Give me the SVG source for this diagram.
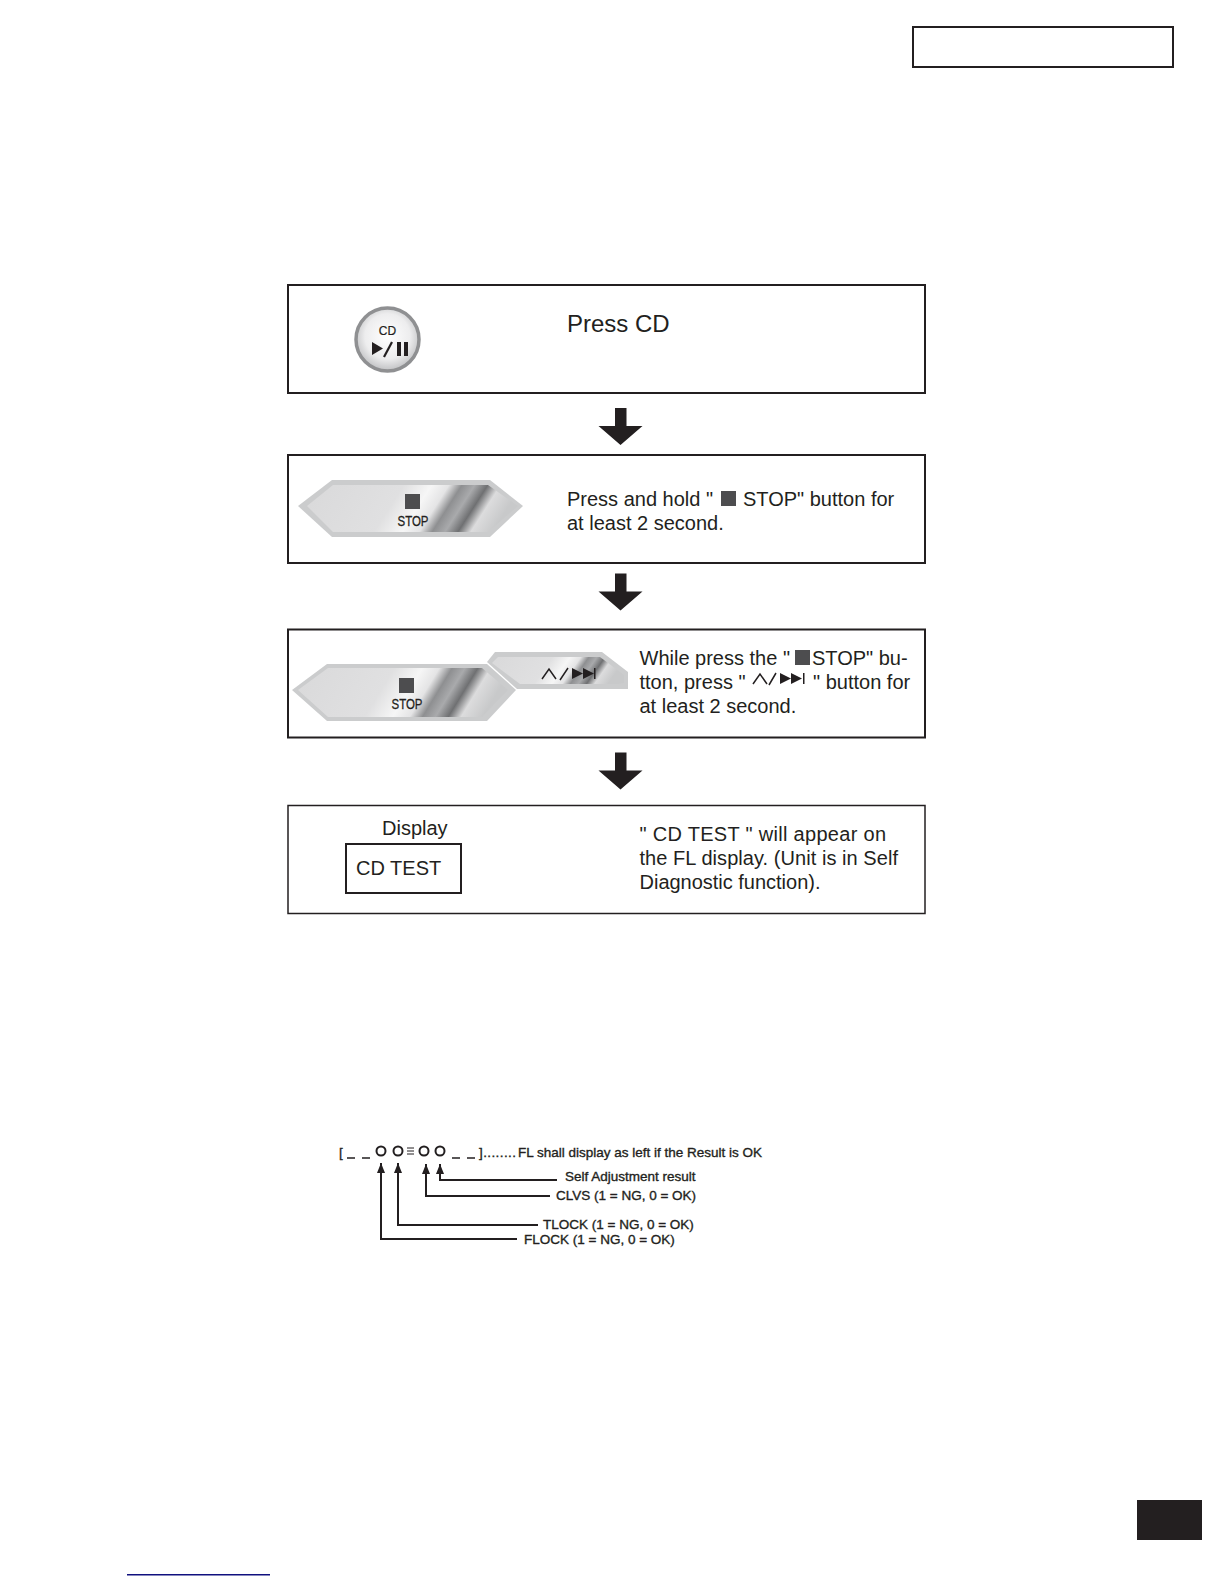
<svg xmlns="http://www.w3.org/2000/svg" width="1224" height="1584" viewBox="0 0 1224 1584">
<style>
text{font-family:"Liberation Sans",Arial,sans-serif;fill:#231f20}
.t{font-size:20px}
.box{fill:#fff;stroke:#231f20;stroke-width:2}
.thin{stroke-width:1.5}
.sq{fill:#4d4d4f}
.lab{font-size:13.5px;stroke:#231f20;stroke-width:.35}
.ln{fill:none;stroke:#231f20;stroke-width:2}
.stop{font-size:15px;stroke:#231f20;stroke-width:.3}
.glyph{fill:#231f20}
.gs{fill:none;stroke:#231f20;stroke-width:1.5}
.rim{fill:#cbcccd}
.face{fill:url(#metal)}
</style>
<defs>
<linearGradient id="metal" x1="0" y1="0" x2="1" y2="0.142">
<stop offset="0" stop-color="#d9d9da"/><stop offset=".45" stop-color="#e0e0e1"/><stop offset=".58" stop-color="#f6f6f6"/><stop offset=".66" stop-color="#e4e4e5"/><stop offset=".72" stop-color="#8e8f91"/><stop offset=".78" stop-color="#a9aaac"/><stop offset=".84" stop-color="#6f7072"/><stop offset=".9" stop-color="#dcdcdd"/><stop offset="1" stop-color="#c8c9ca"/>
</linearGradient>
<radialGradient id="disc" cx=".5" cy=".45" r=".55"><stop offset="0" stop-color="#fff"/><stop offset=".65" stop-color="#ededee"/><stop offset="1" stop-color="#bfc0c2"/></radialGradient>
<polygon id="arrow" points="615,408 626.500,408 626.500,426 642.500,426 620.500,445 598.500,426 615,426"/>
<marker id="tip" viewBox="0 0 8 10" refX="4" refY="0" markerWidth="8" markerHeight="10" markerUnits="userSpaceOnUse" orient="0"><path d="M4 0L8 10H0Z" fill="#231f20"/></marker>
</defs>
<rect width="1224" height="1584" fill="#fff"/>
<g id="header-box"><rect class="box" x="913" y="27" width="260" height="40"/></g>
<g id="step1">
<rect class="box" x="288" y="285" width="637" height="108"/>
<circle cx="387.500" cy="339.500" r="31.500" fill="url(#disc)" stroke="#8f9092" stroke-width="3.500"/>
<text x="387.500" y="335" font-size="12" text-anchor="middle" stroke="#231f20" stroke-width=".2">CD</text>
<path class="glyph" d="M372 342L383 348.500L372 355Z M397 342h4v14h-4Z M404 342h4v14h-4Z"/>
<path d="M392 342L384 357" fill="none" stroke="#231f20" stroke-width="2.200"/>
<text x="567" y="332" font-size="24">Press CD</text>
</g>
<g id="step2">
<rect class="box" x="288" y="455" width="637" height="108"/>
<polygon class="rim" points="332,480 490,480 523,506 490,537 332,537 298,506"/>
<polygon class="face" points="333,485 488,485 518,506 488,532 333,532 307,506"/>
<rect class="sq" x="405" y="494" width="15" height="15"/>
<text class="stop" x="413" y="525.500" text-anchor="middle" textLength="31" lengthAdjust="spacingAndGlyphs">STOP</text>
<text class="t" x="567" y="506">Press and hold "</text>
<rect class="sq" x="721" y="491" width="15" height="15"/>
<text class="t" x="743" y="506">STOP" button for</text>
<text class="t" x="567" y="530">at least 2 second.</text>
</g>
<g id="step3">
<rect class="box" x="288" y="629.500" width="637" height="108"/>
<polygon class="rim" points="495,652 602,652 628,672 628,689 517,689 487,662"/>
<polygon class="face" points="498,657 600,657 624,675 624,683 618,684 520,684 492,663"/>
<path class="gs" d="M542 679L549 669L556 679M560 680L568 668"/>
<path class="glyph" d="M572 668L583 673.500L572 679Z M583 668L594 673.500L583 679Z M594 668h1.500v11h-1.500Z"/>
<polygon class="rim" points="327,664 487,664 516,690 487,721 327,721 292,690"/>
<polygon class="face" points="328,668 482,668 508,690 482,717 328,717 298,690"/>
<rect class="sq" x="399" y="678" width="15" height="15"/>
<text class="stop" x="407" y="709" text-anchor="middle" textLength="31" lengthAdjust="spacingAndGlyphs">STOP</text>
<text class="t" x="639.500" y="665">While press the "</text>
<rect class="sq" x="795" y="650" width="15" height="15"/>
<text class="t" x="812" y="665">STOP" bu-</text>
<text class="t" x="639.500" y="689">tton, press "</text>
<path class="gs" d="M753 684L760 674L767 684M769 685L776 673"/>
<path class="glyph" d="M780 673L791 678.500L780 684Z M791 673L802 678.500L791 684Z M803 673h1.500v11h-1.500Z"/>
<text class="t" x="813" y="689">" button for</text>
<text class="t" x="639.500" y="713">at least 2 second.</text>
</g>
<g id="step4">
<rect class="box thin" x="288" y="805.500" width="637" height="108"/>
<text class="t" x="382" y="835">Display</text>
<rect class="box" x="346" y="844" width="115" height="49"/>
<text class="t" x="356" y="875">CD TEST</text>
<text class="t" x="639.500" y="841" textLength="246.500">" CD TEST " will appear on</text>
<text class="t" x="639.500" y="865" textLength="258.500">the FL display. (Unit is in Self</text>
<text class="t" x="639.500" y="889" textLength="181">Diagnostic function).</text>
</g>
<g id="connectors">
<use href="#arrow" fill="#231f20"/>
<use href="#arrow" y="165.500" fill="#231f20"/>
<use href="#arrow" y="344.500" fill="#231f20"/>
<path class="ln" marker-start="url(#tip)" d="M381 1163V1239H517"/>
<path class="ln" marker-start="url(#tip)" d="M398 1163V1225H538"/>
<path class="ln" marker-start="url(#tip)" d="M426 1164V1196H550"/>
<path class="ln" marker-start="url(#tip)" d="M440 1164V1180H557"/>
</g>
<g id="fl-readout">
<text class="lab" x="339" y="1157">[</text>
<path class="ln" d="M347 1158h8M362 1158h8M452 1158h8M467 1158h8" style="stroke-width:1.500"/>
<circle class="ln" cx="381" cy="1151" r="4.500"/>
<circle class="ln" cx="398" cy="1151" r="4.500"/>
<circle class="ln" cx="424" cy="1151" r="4.500"/>
<circle class="ln" cx="440" cy="1151" r="4.500"/>
<path d="M407 1148h7M407 1151h7M407 1154h7" stroke="#231f20" stroke-width="1"/>
<text class="lab" x="479" y="1157" textLength="37">]........</text>
<text class="lab" x="518" y="1157" textLength="244">FL shall display as left if the Result is OK</text>
</g>
<g id="label-self"><text class="lab" x="565" y="1181">Self Adjustment result</text></g>
<g id="label-clvs"><text class="lab" x="556" y="1200">CLVS (1 = NG, 0 = OK)</text></g>
<g id="label-tlock"><text class="lab" x="543" y="1229">TLOCK (1 = NG, 0 = OK)</text></g>
<g id="label-flock"><text class="lab" x="524" y="1244">FLOCK (1 = NG, 0 = OK)</text></g>
<g id="page-tab"><rect x="1137" y="1500" width="65" height="40" fill="#231f20"/></g>
<g id="footer-line"><rect x="127" y="1574" width="143" height="1.500" fill="#10107f"/></g>
</svg>
